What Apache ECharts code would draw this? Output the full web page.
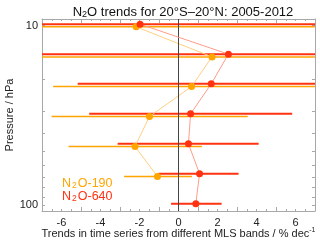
<!DOCTYPE html>
<html><head><meta charset="utf-8">
<script src="https://cdn.jsdelivr.net/npm/echarts@6/dist/echarts.min.js"></script>
<style>html,body{margin:0;padding:0;background:#fff}#c{width:320px;height:240px}</style>
</head><body><div id="c"></div>
<script>
// Pressure levels (hPa)
const pressure = [10, 14.7, 21.5, 31.6, 46.4, 68.1, 100];
// N2O-640 trends (% / decade) and error bar limits (+/-20 means beyond the axis)
const n2o640 = [-1.97, 2.56, 1.68, 0.62, 0.51, 1.08, 0.89];
const n2o640Lo = [-20, -20, -5.17, -4.58, -3.12, -1.03, -0.38];
const n2o640Hi = [20, 20, 20, 5.83, 4.11, 3.08, 2.21];
// N2O-190 trends (no value at 100 hPa)
const n2o190 = [-2.17, 1.72, 0.67, -1.49, -2.23, -1.08, null];
const n2o190Lo = [-20, -20, -6.43, -6.51, -5.64, -2.79, null];
const n2o190Hi = [20, 20, 20, 3.55, 1.2, 0.69, null];
// Axis ticks
const xTicks = [-6, -4, -2, 0, 2, 4, 6];
const yLabels = [10, 100];
const yTicks = [10, 20, 30, 40, 50, 60, 70, 80, 90, 100];

const RED = '#ff3311', RED_L = '#ff9c88';
const ORA = '#ffa500', ORA_L = '#ffcf80';
const OFF = 0.0075; // small vertical offset in log10(p) so both series are visible

const ly = p => Math.log10(p);
function pts(vals, off) {
  const out = [];
  vals.forEach((v, i) => { if (v !== null) out.push([v, ly(pressure[i]) + off]); });
  return out;
}
function bars(lo, hi, off) {
  const out = [];
  lo.forEach((v, i) => { if (v !== null) out.push([v, hi[i], ly(pressure[i]) + off]); });
  return out;
}
function errSeries(data, color, w) {
  return {
    type: 'custom', silent: true, clip: true, z: 2,
    encode: { x: [0, 1], y: 2 },
    data: data,
    renderItem: (params, api) => {
      const a = api.coord([api.value(0), api.value(2)]);
      const b = api.coord([api.value(1), api.value(2)]);
      return { type: 'line', shape: { x1: a[0], y1: a[1], x2: b[0], y2: b[1] },
               style: { stroke: color, lineWidth: w } };
    }
  };
}
const axisGray = '#a8a8a8';
const xBase = {
  type: 'value', min: -7, max: 7, interval: 2,
  axisLine: { show: true, onZero: false, lineStyle: { color: axisGray } },
  axisTick: { show: true, inside: true, length: 4, lineStyle: { color: axisGray } },
  minorTick: { show: true, splitNumber: 4, length: 2, lineStyle: { color: axisGray } },
  splitLine: { show: false }
};
const yBase = {
  type: 'value', min: ly(9.2), max: ly(108), inverse: true,
  axisLine: { show: true, onZero: false, lineStyle: { color: axisGray } },
  axisTick: { show: true, inside: true, length: 3, customValues: yTicks.map(ly), lineStyle: { color: axisGray } },
  splitLine: { show: false }
};
const chart = echarts.init(document.getElementById('c'), null, { renderer: 'canvas' });
const F = 'Liberation Sans, Arial, sans-serif';
function legendFor(name, color, top) {
  return {
    data: [{ name: name }], left: 51, top: top, itemWidth: 0, itemHeight: 0, itemGap: 0,
    selectedMode: false,
    formatter: n => '{n|N}{s|2}{n|' + n.slice(2) + '}',
    textStyle: { fontFamily: F, color: color, rich: {
      n: { fontSize: 12.5, color: color, fontFamily: F },
      s: { fontSize: 8.5, color: color, fontFamily: F, padding: [5, 1, 0, 1] } } }
  };
}
chart.setOption({
  animation: false,
  title: {
    text: '{n|N}{s|2}{n|O trends for 20°S–20°N: 2005-2012}',
    left: 178, top: 0, textAlign: 'center',
    textStyle: { fontWeight: 'normal', rich: {
      n: { fontSize: 13, color: '#111', fontFamily: F, fontWeight: 'normal' },
      s: { fontSize: 9, color: '#111', fontFamily: F, fontWeight: 'normal', padding: [5, 0, 0, 0] } } }
  },
  legend: [legendFor('N2O-190', ORA, 172), legendFor('N2O-640', RED, 185)],
  grid: { left: 42, right: 5, top: 19, bottom: 29, containLabel: false, outerBoundsMode: 'none' },
  xAxis: [
    Object.assign({}, xBase, {
      position: 'bottom',
      axisLabel: { show: true, fontSize: 11, color: '#222', fontFamily: F, margin: 6,
                   customValues: xTicks },
      name: '{a|Trends in time series from different MLS bands / % dec}{b|-1}',
      nameLocation: 'middle', nameGap: 16, nameMoveOverlap: false,
      nameTextStyle: { rich: {
        a: { fontSize: 11, color: '#222', fontFamily: F },
        b: { fontSize: 7, color: '#222', fontFamily: F, padding: [0, 0, 6, 0] } } }
    }),
    Object.assign({}, xBase, { position: 'top', axisLabel: { show: false } })
  ],
  yAxis: [
    Object.assign({}, yBase, {
      position: 'left',
      axisLabel: { show: true, fontSize: 11, color: '#222', fontFamily: F, margin: 4,
                   customValues: yLabels.map(ly),
                   formatter: v => String(Math.round(Math.pow(10, v))) },
      name: 'Pressure / hPa', nameLocation: 'middle', nameGap: 27, nameRotate: 90,
      nameMoveOverlap: false,
      nameTextStyle: { fontSize: 11, color: '#222', fontFamily: F }
    }),
    Object.assign({}, yBase, { position: 'right', axisLabel: { show: false } })
  ],
  series: [
    errSeries(bars(n2o190Lo, n2o190Hi, OFF), ORA, 1.5),
    errSeries(bars(n2o640Lo, n2o640Hi, -OFF), RED, 2),
    {
      type: 'line', silent: true, z: 3, data: [],
      markLine: { silent: true, symbol: 'none', label: { show: false },
                  lineStyle: { color: '#444', width: 1, type: 'solid' },
                  data: [{ xAxis: 0 }] }
    },
    {
      name: 'N2O-190', type: 'line', z: 4, data: pts(n2o190, OFF),
      symbol: 'circle', symbolSize: 7, itemStyle: { color: ORA },
      lineStyle: { color: ORA_L, width: 1 }
    },
    {
      name: 'N2O-640', type: 'line', z: 5, data: pts(n2o640, -OFF),
      symbol: 'circle', symbolSize: 7, itemStyle: { color: RED },
      lineStyle: { color: RED_L, width: 1 }
    }
  ]
});
</script></body></html>
